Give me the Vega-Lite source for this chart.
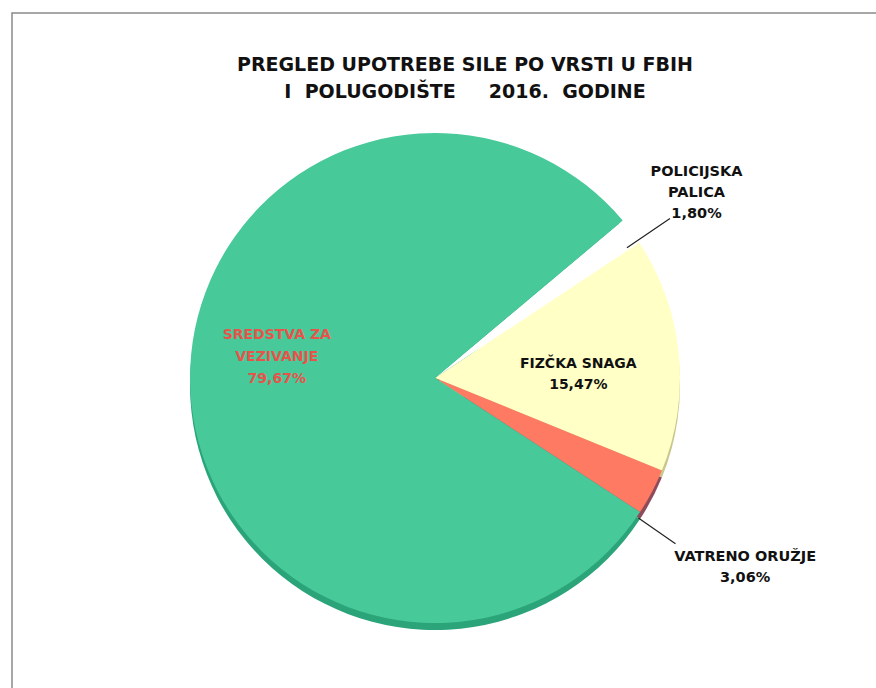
{
  "$schema": "https://vega.github.io/schema/vega-lite/v6.json",
  "autosize": "none",
  "width": 870,
  "height": 700,
  "padding": {"left": 12, "top": 13, "right": 0, "bottom": 0},
  "background": "white",
  "config": {"view": {"stroke": null}},
  "title": {
    "text": ["PREGLED UPOTREBE SILE PO VRSTI U FBIH", "I\u00a0\u00a0POLUGODIŠTE\u00a0\u00a0\u00a0\u00a0\u00a02016.\u00a0\u00a0GODINE"],
    "font": "DejaVu Sans",
    "fontSize": 19,
    "fontWeight": "bold",
    "color": "#111111",
    "lineHeight": 27,
    "anchor": "middle",
    "dx": 18,
    "offset": -90
  },
  "layer": [
    {
      "data": {"values": [{"okvir": 1}]},
      "mark": {"type": "rect", "fill": null, "stroke": "#8a8a8a", "strokeWidth": 1.5},
      "encoding": {}
    },
    {
      "data": {
        "values": [
          {"rb": 1, "kategorija": "POLICIJSKA PALICA", "udio": 1.80, "oznaka": "POLICIJSKA\nPALICA\n1,80%"},
          {"rb": 2, "kategorija": "FIZIČKA SNAGA", "udio": 15.47, "oznaka": "FIZČKA SNAGA\n15,47%"},
          {"rb": 3, "kategorija": "VATRENO ORUŽJE", "udio": 3.06, "oznaka": "VATRENO ORUŽJE\n3,06%"},
          {"rb": 4, "kategorija": "SREDSTVA ZA VEZIVANJE", "udio": 79.67, "oznaka": "SREDSTVA ZA\nVEZIVANJE\n79,67%"}
        ]
      },
      "encoding": {
        "theta": {"field": "udio", "type": "quantitative", "stack": true, "scale": {"range": [0.8727, 7.1559]}},
        "order": {"field": "rb", "type": "quantitative"}
      },
      "layer": [
        {
          "mark": {"type": "arc", "outerRadius": 245, "xOffset": -12, "yOffset": 22},
          "encoding": {
            "color": {"field": "kategorija", "type": "nominal", "legend": null,
              "scale": {"domain": ["POLICIJSKA PALICA", "FIZIČKA SNAGA", "VATRENO ORUŽJE", "SREDSTVA ZA VEZIVANJE"],
                        "range": ["#ffffff", "#c8c88c", "#8e4b5c", "#2ba47a"]}}
          }
        },
        {
          "mark": {"type": "arc", "outerRadius": 245, "xOffset": -12, "yOffset": 15},
          "encoding": {
            "fill": {"field": "kategorija", "type": "nominal", "legend": null,
              "scale": {"domain": ["POLICIJSKA PALICA", "FIZIČKA SNAGA", "VATRENO ORUŽJE", "SREDSTVA ZA VEZIVANJE"],
                        "range": ["#ffffff", "#ffffc6", "#ff7a62", "#47c99a"]}}
          }
        },
        {
          "mark": {"type": "arc", "innerRadius": 232, "outerRadius": 284, "padAngle": 0.5, "thetaOffset": 0.045, "xOffset": -12, "yOffset": 15, "fillOpacity": 0, "stroke": "#222222", "strokeWidth": 1.2},
          "encoding": {"strokeOpacity": {"condition": {"test": "datum.rb === 1", "value": 1}, "value": 0}}
        },
        {
          "mark": {"type": "arc", "innerRadius": 247, "outerRadius": 292, "padAngle": 0.5, "thetaOffset": 0.12, "xOffset": -12, "yOffset": 15, "fillOpacity": 0, "stroke": "#222222", "strokeWidth": 1.2},
          "encoding": {"strokeOpacity": {"condition": {"test": "datum.rb === 3", "value": 1}, "value": 0}}
        },
        {
          "mark": {"type": "text", "radius": 333, "thetaOffset": -0.026, "xOffset": -12, "yOffset": 15, "font": "DejaVu Sans", "fontWeight": "bold", "fontSize": 14.5, "lineHeight": 21, "lineBreak": "\n", "color": "#111111", "align": "center", "baseline": "middle"},
          "encoding": {"text": {"condition": {"test": "datum.rb === 1", "field": "oznaka"}, "value": ""}}
        },
        {
          "mark": {"type": "text", "radius": 144, "xOffset": -12, "yOffset": 15, "font": "DejaVu Sans", "fontWeight": "bold", "fontSize": 14, "lineHeight": 21, "lineBreak": "\n", "color": "#111111", "align": "center", "baseline": "middle"},
          "encoding": {"text": {"condition": {"test": "datum.rb === 2", "field": "oznaka"}, "value": ""}}
        },
        {
          "mark": {"type": "text", "radius": 358, "thetaOffset": 0.04, "xOffset": -12, "yOffset": 15, "font": "DejaVu Sans", "fontWeight": "bold", "fontSize": 14.5, "lineHeight": 21, "lineBreak": "\n", "color": "#111111", "align": "center", "baseline": "middle"},
          "encoding": {"text": {"condition": {"test": "datum.rb === 3", "field": "oznaka"}, "value": ""}}
        },
        {
          "mark": {"type": "text", "radius": 164, "thetaOffset": 0.325, "xOffset": -12, "yOffset": 15, "font": "DejaVu Sans", "fontWeight": "bold", "fontSize": 14, "lineHeight": 22, "lineBreak": "\n", "color": "#e8534a", "align": "center", "baseline": "middle"},
          "encoding": {"text": {"condition": {"test": "datum.rb === 4", "field": "oznaka"}, "value": ""}}
        }
      ]
    }
  ]
}
